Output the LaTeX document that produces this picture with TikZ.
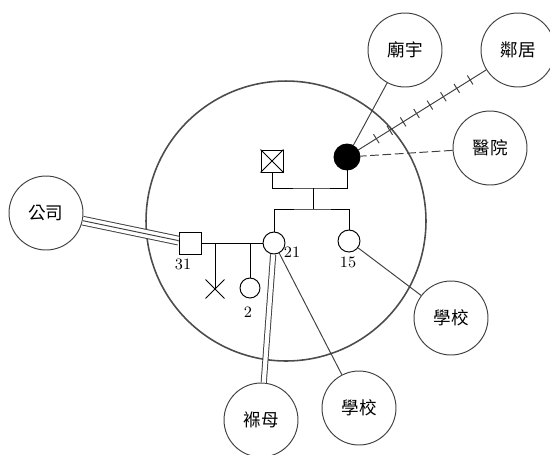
\documentclass[tikz,border=0pt]{standalone}
\usepackage{fontspec}
\newfontfamily\cjk{Noto Sans CJK TC}
\usetikzlibrary{shapes.misc,decorations.markings}

\begin{document}
\begin{tikzpicture}[x=0.02cm, y=-0.02cm, line width=0.55pt,
    place/.style={circle, draw=black!75, minimum size=1.48cm, inner sep=0pt, font=\cjk\fontsize{10}{12}\selectfont},
    man/.style={rectangle, draw, minimum size=0.44cm, inner sep=0pt},
    woman/.style={circle, draw, minimum size=0.44cm, inner sep=0pt},
    age/.style={font=\small},
    link/.style={draw=black!75},
    ticked/.style={postaction={decorate}, decoration={markings,
        mark=between positions 0.14 and 0.88 step 0.105 with {\draw[black!75] (0,-3pt) -- (0,3pt);}}}]
\useasboundingbox (0,0) rectangle (550,454);

% home boundary
\node[circle, draw=black!70, line width=0.9pt, minimum size=5.6cm] (home) at (286,221) {};

% outside systems
\node[place] (miao) at (405,50) {廟宇};
\node[place] (lin) at (518,50) {鄰居};
\node[place] (yi) at (490,148) {醫院};
\node[place] (gong) at (46,213) {公司};
\node[place] (xiaoR) at (451,318) {學校};
\node[place] (bao) at (261,420) {褓母};
\node[place] (xiaoB) at (359,408) {學校};

% grandparents
\node[man] (gf) at (272,161) {};
\draw (gf.north west) -- (gf.south east) (gf.north east) -- (gf.south west);
\node[woman, fill, minimum size=0.52cm] (gm) at (347,157) {};
\coordinate (m1) at (313,188);
\coordinate (kids) at (313,209);
\draw (gf.south) |- (m1) -| (gm.south);
\draw (m1) -- (kids);

% parents
\node[woman] (c21) at (274,243) {};
\node[woman] (c15) at (349,241) {};
\node[man] (s31) at (190,243) {};
\draw (c21.north) |- (kids) -| (c15.north);
\draw (s31.east) -- (c21.west);
\node[age] (a21) at (292,252) {21};
\node[age] (a15) at (348,262) {15};
\node[age] (a31) at (183,264) {31};

% children
\node[cross out, draw, minimum size=0.36cm, inner sep=0pt] (dead) at (215,289) {};
\node[woman, minimum size=0.4cm] (c2) at (250,288) {};
\draw (dead.center |- s31) -- (dead.center);
\draw (c2.north |- s31) -- (c2.north);
\node[age] (a2) at (248,312) {2};

% links
\draw[link] (miao) -- (gm);
\draw[link, ticked] (gm) -- (lin);
\draw[link, dash pattern=on 5pt off 2pt] (yi) -- (gm);
\draw[link, double distance=4.4pt] (gong) -- (s31);
\draw[link] (gong) -- (s31);
\draw[link, double distance=2.4pt] (bao) -- (c21);
\draw[link] (xiaoB) -- (c21);
\draw[link] (xiaoR) -- (c15);
\end{tikzpicture}
\end{document}
